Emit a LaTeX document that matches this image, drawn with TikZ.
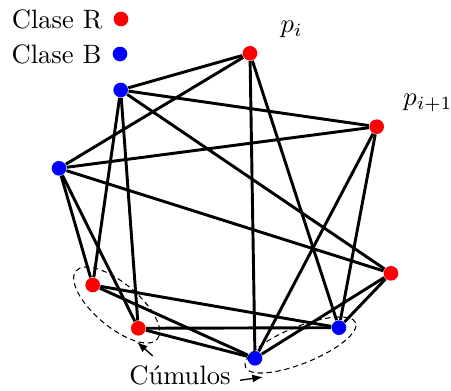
\documentclass[tikz,border=0pt]{standalone}
\usetikzlibrary{shapes.geometric, arrows.meta, positioning, backgrounds}
\definecolor{redcls}{RGB}{255, 0, 0}
\definecolor{bluecls}{RGB}{0, 0, 255}
\definecolor{linkcolor}{RGB}{0, 0, 0}
\tikzset{
  ptdot/.style={circle, inner sep=0pt, minimum size=5.5pt},
  reddot/.style={ptdot, fill=redcls},
  bluedot/.style={ptdot, fill=bluecls},
  link/.style={line width=1.1pt, color=linkcolor},
  cluster/.style={ellipse, draw, dash pattern=on 2pt off 1.4pt, line width=0.4pt, inner sep=0pt},
  ptr/.style={-{Latex[length=4pt, width=3pt]}, line width=0.5pt}
}
\begin{document}
\begin{tikzpicture}[x=0.376pt, y=0.376pt]
  \useasboundingbox (0,0) rectangle (451,391);

  % legend
  \node[reddot]  (legR) at (121,372) {};
  \node[bluedot] (legB) at (120,337) {};
  \node[left=0.5pt of legR] (txtR) {Clase R};
  \node[left=0.5pt of legB] (txtB) {Clase B};

  % class R
  \node[reddot] (pi)     at (250,337.7) {};
  \node[reddot] (pnext)  at (376.7,264.3) {};
  \node[reddot] (rright) at (391,117.7) {};
  \node[reddot] (rleft)  at (92.7,106) {};
  \node[reddot] (rlow)   at (138.3,62.7) {};

  % class B
  \node[bluedot] (btop)    at (120.7,301) {};
  \node[bluedot] (bleft)   at (59,222.7) {};
  \node[bluedot] (bright)  at (339,63.3) {};
  \node[bluedot] (bbottom) at (255,32.7) {};

  \node (lpi) at (291.7,362) {$p_i$};
  \node[anchor=west] (lpnext) at (394,288.5) {$p_{i+1}$};

  % clusters
  \node[cluster, minimum width=39.9pt, minimum height=16.5pt, rotate=-40] (cl1) at (116.7,86) {};
  \node[cluster, minimum width=44.7pt, minimum height=13.8pt, rotate=22]  (cl2) at (300.5,46) {};

  \node (cum) at (180,16) {Cúmulos};
  \coordinate (tip1) at (137,49);
  \coordinate (tip2) at (263,14);
  \draw[ptr] (cum.145) -- (tip1);
  \draw[ptr] (cum.-5)  -- (tip2);

  \begin{scope}[on background layer]
    \draw[link] (pi) -- (btop);      \draw[link] (pi) -- (bleft);
    \draw[link] (pi) -- (bright);    \draw[link] (pi) -- (bbottom);
    \draw[link] (pnext) -- (btop);   \draw[link] (pnext) -- (bleft);
    \draw[link] (pnext) -- (bright); \draw[link] (pnext) -- (bbottom);
    \draw[link] (rright) -- (btop);   \draw[link] (rright) -- (bleft);
    \draw[link] (rright) -- (bright); \draw[link] (rright) -- (bbottom);
    \draw[link] (rleft) -- (btop);   \draw[link] (rleft) -- (bleft);
    \draw[link] (rleft) -- (bright); \draw[link] (rleft) -- (bbottom);
    \draw[link] (rlow) -- (btop);    \draw[link] (rlow) -- (bleft);
    \draw[link] (rlow) -- (bright);  \draw[link] (rlow) -- (bbottom);
  \end{scope}

\end{tikzpicture}
\end{document}
